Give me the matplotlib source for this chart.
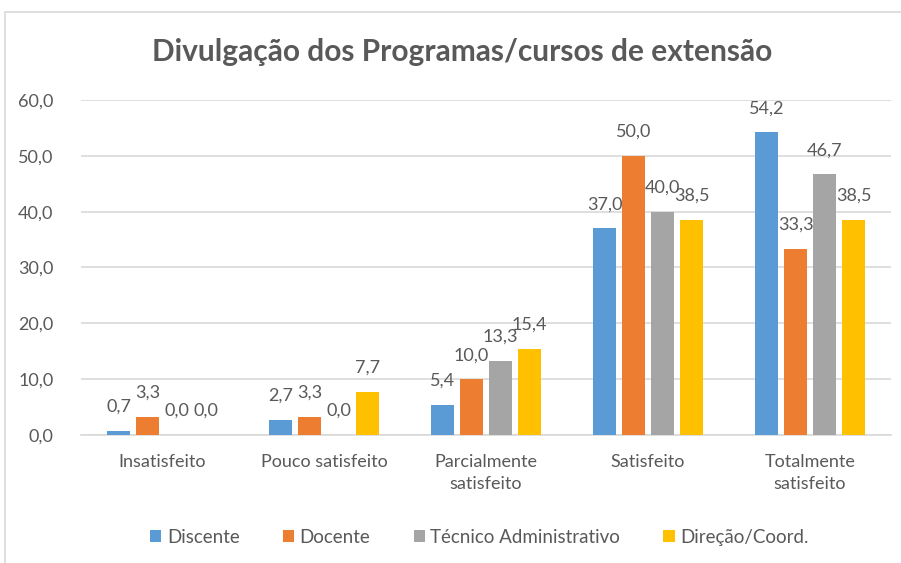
import numpy as np
import matplotlib.pyplot as plt
from matplotlib.patches import Rectangle

plt.rcParams['font.family'] = ['Lato', 'DejaVu Sans']

# -----------------------------
# dados
# -----------------------------
categorias = ["Insatisfeito", "Pouco satisfeito", "Parcialmente\nsatisfeito",
              "Satisfeito", "Totalmente\nsatisfeito"]
series = ["Discente", "Docente", "Técnico Administrativo", "Direção/Coord."]
discente = [0.7, 2.7, 5.4, 37.0, 54.2]
docente = [3.3, 3.3, 10.0, 50.0, 33.3]
tecnico = [0.0, 0.0, 13.3, 40.0, 46.7]
direcao = [0.0, 7.7, 15.4, 38.5, 38.5]
valores = [discente, docente, tecnico, direcao]
cores = ["#5B9BD5", "#ED7D31", "#A5A5A5", "#FFC000"]

texto = "#595959"

fig = plt.figure(figsize=(9.01, 5.63), dpi=100)
ax = fig.add_axes([0.090, 0.2274, 0.899, 0.595])

# moldura do gráfico
fig.patches.append(Rectangle((5 / 901, -0.05), 1.1, 1.0 - 12 / 563 + 0.05,
                             transform=fig.transFigure, fill=False,
                             edgecolor="#D9D9D9", linewidth=1.2))

x = np.arange(len(categorias))
passo = 0.179
largura = 0.142

for i, (nome, vals, cor) in enumerate(zip(series, valores, cores)):
    pos = x + (i - 1.5) * passo
    ax.bar(pos, vals, width=largura, color=cor, label=nome, zorder=3)
    for p, v in zip(pos, vals):
        ax.annotate(f"{v:.1f}".replace(".", ","), (p, v), xytext=(0, 24),
                    textcoords="offset pixels", ha="center", va="center",
                    fontsize=13, color=texto, zorder=4)

# eixos
ax.set_xlim(-0.5, len(categorias) - 0.5)
ax.set_ylim(0, 60)
ax.set_yticks(np.arange(0, 61, 10))
ax.set_yticklabels([f"{t:.1f}".replace(".", ",") for t in np.arange(0, 61, 10)])
ax.set_xticks(x)
ax.set_xticklabels(categorias, linespacing=1.45)
ax.tick_params(axis="both", length=0, labelsize=13, colors=texto)
ax.tick_params(axis="x", pad=14)
ax.tick_params(axis="y", pad=20)
ax.grid(axis="y", color="#D9D9D9", linewidth=1.2, zorder=0)
for s in ["top", "right", "left"]:
    ax.spines[s].set_visible(False)
ax.spines["bottom"].set_color("#D9D9D9")
ax.spines["bottom"].set_linewidth(1.2)

fig.text(0.513, 0.907, "Divulgação dos Programas/cursos de extensão",
         ha="center", va="center", fontsize=21.5, fontweight="bold", color=texto)

fig.legend(loc="center", bbox_to_anchor=(0.532, 0.046), ncol=4, frameon=False,
           fontsize=13.5, labelcolor=texto, handlelength=0.6, handleheight=0.6,
           handletextpad=0.3, columnspacing=2.3)

plt.savefig("out.png", dpi=100)
